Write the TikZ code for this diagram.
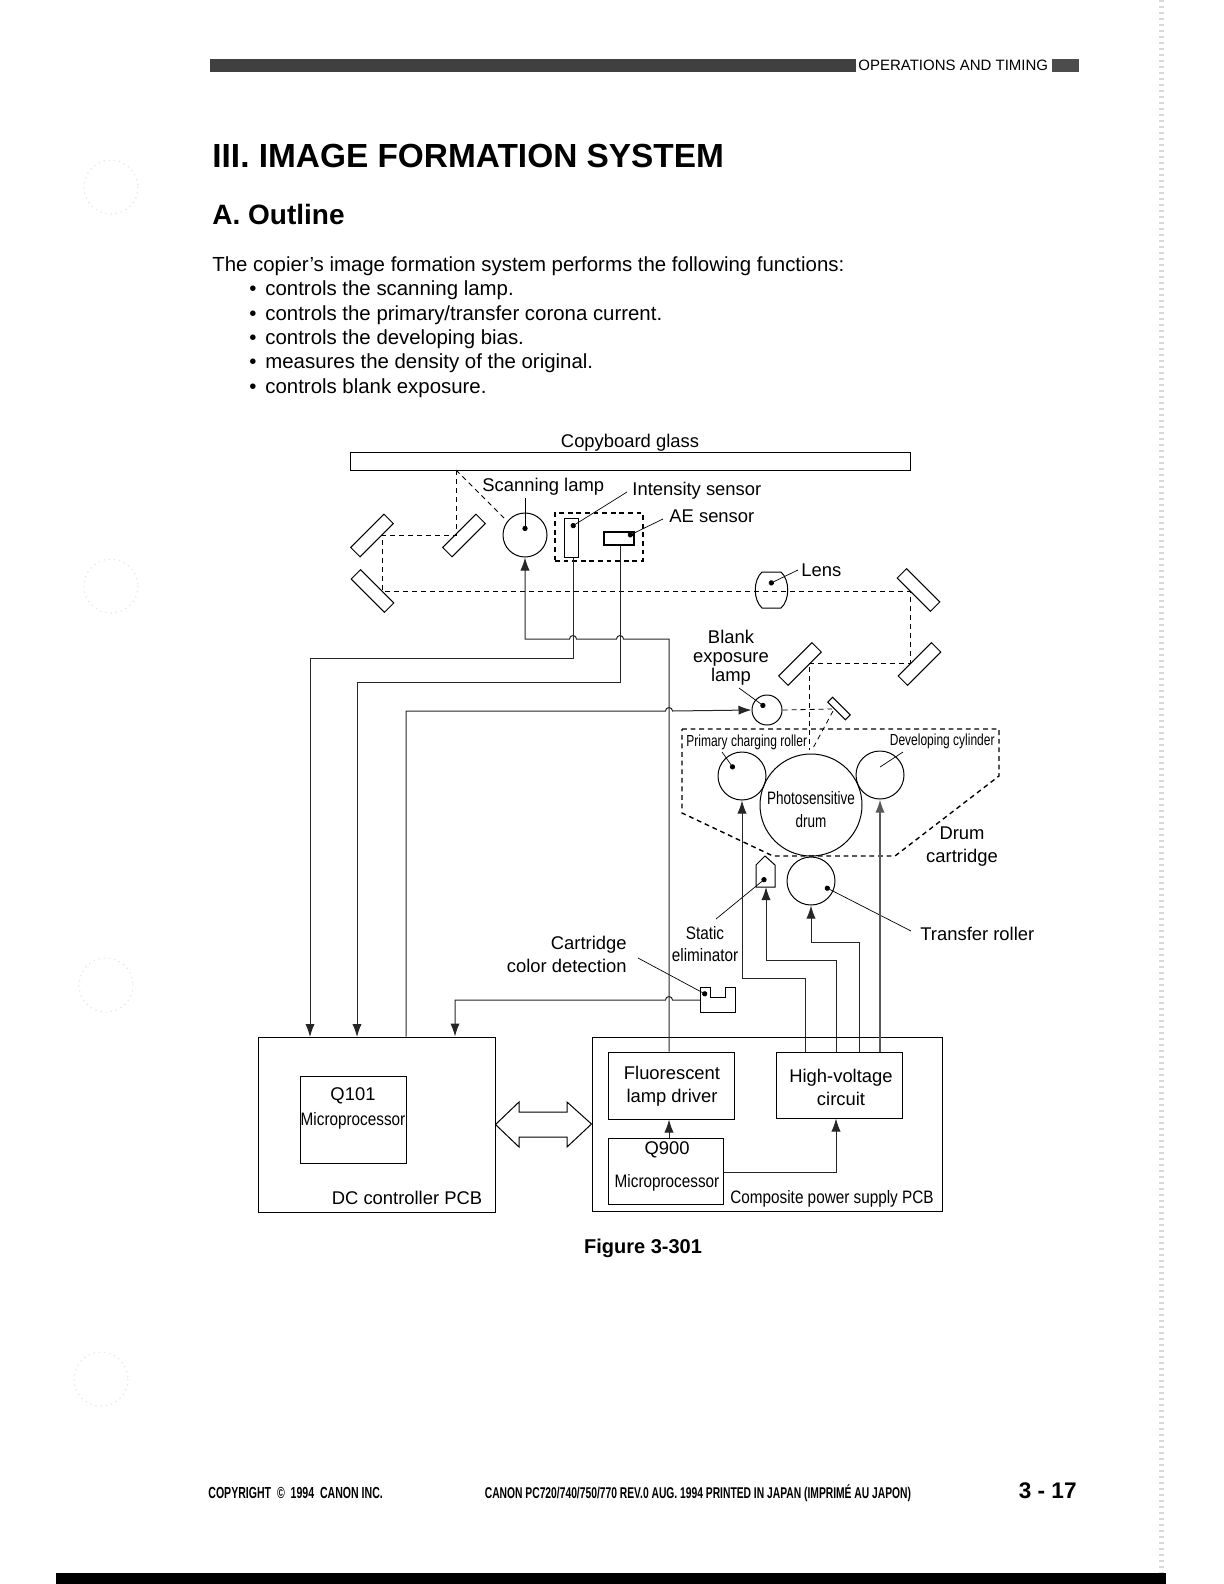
\documentclass[tikz,border=0pt]{standalone}
\usepackage{fontspec}
\setmainfont{Liberation Sans}
\newfontfamily\condfont[FakeStretch=0.75]{Liberation Sans}
\newfontfamily\midfont[FakeStretch=0.85]{Liberation Sans}
\newfontfamily\footfont[FakeStretch=0.66]{Liberation Sans}
\newcommand{\lblfont}{\fontsize{9.2}{11.5}\selectfont}
\newcommand{\bodyfont}{\fontsize{10.2}{12}\selectfont}
\newcommand{\smallcond}{\condfont\fontsize{8}{10}\selectfont}
\newcommand{\midcond}{\midfont\fontsize{9}{11}\selectfont}
\usetikzlibrary{arrows.meta, shapes.geometric}

\begin{document}
\begin{tikzpicture}[x=0.5pt, y=-0.5pt,
    box/.style={draw, inner sep=0pt, line width=0.5pt, align=center, font=\lblfont},
    lamp/.style={draw, circle, inner sep=0pt, line width=0.5pt},
    mirror/.style={draw, inner sep=0pt, line width=0.5pt, minimum width=23.5pt, minimum height=6.6pt},
    lbl/.style={inner sep=0pt, align=center, font=\lblfont},
    wire/.style={line width=0.5pt, black!85},
    arrow/.style={wire, -{Latex[length=6.5pt, width=4.6pt]}},
    beam/.style={line width=0.4pt, dash pattern=on 2.5pt off 2pt},
    leader/.style={line width=0.35pt, -{Circle[length=2.6pt]}},
    plainleader/.style={line width=0.35pt},
    cart/.style={line width=0.7pt, dash pattern=on 2.4pt off 1.9pt}
]
    \useasboundingbox (0,0) rectangle (1224,1584);

    % page furniture
    \fill[black!75] (210,59.5) rectangle (856,72.5);
    \fill[black!70] (1052,59.5) rectangle (1079,72.5);
    \fill[black] (56,1573) rectangle (1166,1584);
    \draw[gray!30, line width=2.5pt, dash pattern=on 1pt off 2pt] (1161,0) -- (1161,1573);
    \node[lbl, anchor=base west, font=\fontsize{7.5}{9}\selectfont] (header) at (858,71) {OPERATIONS AND TIMING};
    \node[lbl, anchor=base west, font=\bfseries\fontsize{16.7}{20}\selectfont] (title) at (212,168) {III. IMAGE FORMATION SYSTEM};
    \node[lbl, anchor=base west, font=\bfseries\fontsize{14}{17}\selectfont] (outline) at (212,224) {A. Outline};
    \node[lbl, anchor=base west, font=\bodyfont] (intro) at (212,271) {The copier's image formation system performs the following functions:};
    \foreach \i/\y/\txt in {1/295.5/{controls the scanning lamp.}, 2/320/{controls the primary/transfer corona current.},
        3/344/{controls the developing bias.}, 4/368.5/{measures the density of the original.}, 5/393/{controls blank exposure.}} {
        \node[lbl, anchor=base west, font=\bodyfont] (bullet\i) at (249,\y) {•};
        \node[lbl, anchor=base west, font=\bodyfont] (item\i) at (265,\y) {\txt};
    }
    \foreach \i/\cx/\cy in {1/111/187, 2/111/586, 3/106/985, 4/101/1379}
        \draw[gray!20, line width=0.6pt, dotted] (\cx,\cy) circle[radius=27];

    % optics
    \node[draw, inner sep=0pt, line width=0.5pt, minimum width=280pt, minimum height=9pt] (glass) at (630,461) {};
    \node[lbl] (glasslbl) at (630,443) {Copyboard glass};
    \node[mirror, rotate=45]  (mirA) at (372,535.5) {};
    \node[mirror, rotate=45]  (mirB) at (464,535.5) {};
    \node[mirror, rotate=-45] (mirC) at (372.5,591) {};
    \node[mirror, rotate=-45] (mirD) at (918.5,590) {};
    \node[mirror, rotate=45]  (mirE) at (919.5,664) {};
    \node[mirror, rotate=45]  (mirF) at (800,664) {};
    \node[mirror, rotate=-45, minimum width=12.5pt, minimum height=3.5pt] (mirG) at (839,708.5) {};
    \draw[line width=0.5pt] (762,572) .. controls (753,580) and (753,600) .. (762,608) -- (781,608) .. controls (790,600) and (790,580) .. (781,572) -- cycle;

    \coordinate (glassdrop) at (456,470);
    \coordinate (beamA) at (382,535);
    \coordinate (beamB) at (456,535);
    \coordinate (beamC) at (382,591);
    \coordinate (beamD) at (910,591);
    \coordinate (beamE) at (910,663);
    \coordinate (beamF) at (809,663);
    \coordinate (beamG) at (809,750);
    \coordinate (beamH) at (832,709);
    \coordinate (beamI) at (833,711);
    \coordinate (beamJ) at (812,750);
    \draw[beam] (glassdrop) -- (beamB) -- (beamA) -- (beamC) -- (beamD) -- (beamE) -- (beamF) -- (beamG);
    \draw[beam] (glassdrop) -- (505,519);

    \node[lamp, minimum size=22pt] (scanlamp) at (525,535) {};
    \node[lamp, minimum size=15pt] (blanklamp) at (767,710) {};
    \draw[beam] (blanklamp.east) -- (beamH);
    \draw[beam] (beamI) -- (beamJ);

    \node[draw, inner sep=0pt, line width=0.5pt, minimum width=7pt, minimum height=19.5pt] (intsens) at (571,537.5) {};
    \node[draw, inner sep=0pt, line width=0.6pt, minimum width=15pt, minimum height=6.5pt] (aesens) at (619,538.5) {};
    \node[draw, cart, inner sep=0pt, minimum width=44pt, minimum height=24pt] (sensbox) at (599,537) {};

    \node[lbl, anchor=west] (scanlbl) at (482,487) {Scanning lamp};
    \node[lbl, anchor=west] (intlbl) at (632,490.5) {Intensity sensor};
    \node[lbl, anchor=west] (aelbl) at (669,516.5) {AE sensor};
    \node[lbl, anchor=west] (lenslbl) at (801,570.5) {Lens};
    \node[lbl, font=\fontsize{9.2}{9.5}\selectfont] (blanklbl) at (731,658) {Blank\\exposure\\lamp};
    \coordinate (dotscan) at (525,531);
    \coordinate (dotint) at (571,527);
    \coordinate (dotae) at (628,536);
    \coordinate (dotlens) at (769,584);
    \coordinate (dotblank) at (765,707);
    \draw[leader] (525,498) -- (dotscan);
    \draw[leader] (627,492) -- (dotint);
    \draw[leader] (663,519) -- (dotae);
    \draw[leader] (798,570) -- (dotlens);
    \draw[leader] (739,688) -- (dotblank);

    % drum cartridge
    \draw[cart] (682,729) -- (999,729) -- (999,776) -- (895,856) -- (773,856) -- (682,813) -- cycle;
    \node[lamp, minimum size=51pt] (drum) at (811,805) {};
    \node[lamp, minimum size=24pt] (charge) at (742,776) {};
    \node[lamp, minimum size=24pt] (develop) at (880,775) {};
    \node[lamp, minimum size=24pt] (transfer) at (811,881) {};
    \node[lbl, font=\condfont\fontsize{9}{11.5}\selectfont] (drumlbl) at (811,809.5) {Photosensitive\\drum};
    \node[lbl, anchor=west, font=\smallcond] (chargelbl) at (686,742) {Primary charging roller};
    \node[lbl, anchor=east, font=\smallcond] (devlbl) at (995,741) {Developing cylinder};
    \node[lbl] (cartlbl) at (962,846.5) {Drum\\cartridge};
    \node[lbl, anchor=west] (translbl) at (920,933.5) {Transfer roller};
    \node[lbl, font=\midcond] (staticlbl) at (705,944) {Static\\eliminator};
    \node[lbl, align=right, anchor=east] (colorlbl) at (627,954) {Cartridge\\color detection};
    \coordinate (dotcharge) at (734,769);
    \coordinate (dotdev) at (880,767);
    \coordinate (dottrans) at (825,887);
    \coordinate (dotstatic) at (766,878);
    \coordinate (dotcolor) at (707,995);
    \draw[leader] (722,752) -- (dotcharge);
    \draw[plainleader] (903,752) -- (dotdev);
    \draw[leader] (911,931) -- (dottrans);
    \draw[leader] (716,919) -- (dotstatic);
    \draw[leader] (638,958) -- (dotcolor);

    \draw[line width=0.5pt] (756,865) -- (765,856) -- (775,865) -- (775,887) -- (756,887) -- cycle;
    \coordinate (staticbase) at (766,887);
    \draw[line width=0.5pt] (700,987) -- (710,987) -- (710,997) -- (725,997) -- (725,987) -- (735,987) -- (735,1012) -- (700,1012) -- cycle;
    \coordinate (colorport) at (700,1000);

    % boards
    \node[draw, inner sep=0pt, line width=0.5pt, minimum width=118.5pt, minimum height=87.5pt] (dcpcb) at (376.5,1124.5) {};
    \node[box, minimum width=53pt, minimum height=43.5pt] (q101) at (353,1119.5) {};
    \node[lbl] (q101lbl) at (353,1096) {Q101};
    \node[lbl, font=\midcond] (q101cpu) at (353,1121) {Microprocessor};
    \node[lbl] (dclbl) at (407,1198) {DC controller PCB};
    \node[draw, inner sep=0pt, line width=0.5pt, minimum width=175pt, minimum height=87pt] (powerpcb) at (767,1124) {};
    \node[box, minimum width=63pt, minimum height=33.5pt] (fldrv) at (671,1085.5) {};
    \node[lbl] (fldrvlbl) at (672,1086) {Fluorescent\\lamp driver};
    \node[box, minimum width=63pt, minimum height=33pt] (hv) at (839,1085) {};
    \node[lbl] (hvlbl) at (841,1087) {High-voltage\\circuit};
    \node[box, minimum width=57.5pt, minimum height=33pt] (q900) at (665.5,1171) {};
    \node[lbl] (q900lbl) at (667,1150) {Q900};
    \node[lbl, font=\midcond] (q900cpu) at (667,1183) {Microprocessor};
    \node[lbl, font=\midcond] (powerlbl) at (832,1199) {Composite power supply PCB};
    \draw[line width=0.5pt] (dcpcb.east) -- (519,1102) -- (519,1112) -- (567,1112) -- (567,1102) -- (powerpcb.west) -- (567,1147) -- (567,1137) -- (519,1137) -- (519,1147) -- cycle;

    % wiring
    \coordinate (wireL) at (669,639);
    \coordinate (wireS) at (573,658);
    \coordinate (wireA) at (620,682);
    \coordinate (wireB) at (406,711);
    \coordinate (wireC) at (455,1000);
    \draw[arrow] (fldrv.north -| wireL) -- (wireL) -- (623.5,639) arc[start angle=0, end angle=-180, radius=3.5] -- (576.5,639) arc[start angle=0, end angle=-180, radius=3.5] -- (525,639) -- (scanlamp.south);
    \draw[arrow] (intsens.south -| wireS) -- (wireS) -- (310,658) -- (310,1037);
    \draw[arrow] (aesens.south -| wireA) -- (wireA) -- (357,682) -- (357,1037);
    \draw[arrow] (dcpcb.north -| wireB) -- (wireB) -- (665.5,711) arc[start angle=-180, end angle=0, radius=3.5] -- (blanklamp.west);
    \draw[arrow] (colorport) -- (672.5,1000) arc[start angle=0, end angle=-180, radius=3.5] -- (wireC) -- (dcpcb.north -| wireC);
    \draw[arrow] (q900.north -| wireL) -- (fldrv.south -| wireL);
    \draw[arrow] (q900.east |- 0,1172) -- (836,1172) -- (hv.south -| 836,0);
    \draw[arrow] (hv.north -| 805,0) -- (805,978) -- (742,978) -- (charge.south);
    \draw[arrow] (hv.north -| 836,0) -- (836,960) -- (766,960) -- (staticbase);
    \draw[arrow] (hv.north -| 859,0) -- (859,942) -- (811,942) -- (transfer.south);
    \draw[arrow, line width=0.8pt, black!65] (hv.north -| develop.south) -- (develop.south);

    % captions
    \node[lbl, font=\bfseries\fontsize{10}{12}\selectfont, anchor=base] (figlbl) at (643,1253) {Figure 3-301};
    \node[lbl, anchor=base west, font=\footfont\bfseries\fontsize{8}{10}\selectfont] (copyright) at (208,1498) {COPYRIGHT\ \ ©\ \ 1994\ \ CANON INC.};
    \node[lbl, anchor=base, font=\footfont\bfseries\fontsize{7.8}{10}\selectfont] (canon) at (698,1498) {CANON PC720/740/750/770 REV.0 AUG. 1994 PRINTED IN JAPAN (IMPRIMÉ AU JAPON)};
    \node[lbl, anchor=base east, font=\bfseries\fontsize{11.3}{13}\selectfont] (pageno) at (1077,1498) {3 - 17};
\end{tikzpicture}
\end{document}
